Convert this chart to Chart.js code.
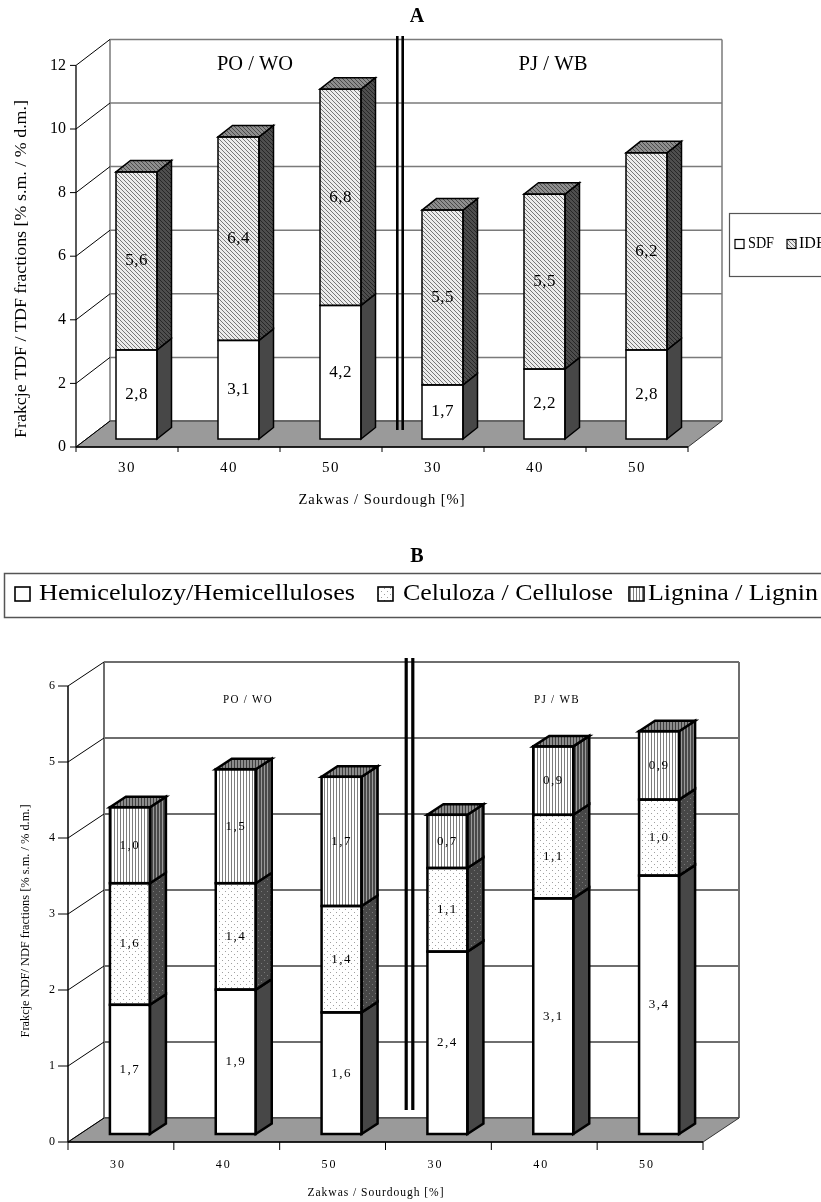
<!DOCTYPE html>
<html>
<head>
<meta charset="utf-8">
<script src="https://cdn.jsdelivr.net/npm/chart.js@4.4.1/dist/chart.umd.min.js"></script>
<style>
  html,body{margin:0;padding:0;background:#fff;}
  body{width:821px;height:1202px;position:relative;overflow:hidden;}
  canvas{position:absolute;left:0;}
</style>
</head>
<body>
<canvas id="chartA" width="821" height="530" style="top:0px;width:821px;height:530px"></canvas>
<canvas id="chartB" width="821" height="662" style="top:540px;width:821px;height:662px"></canvas>
<script>
// ---------------- DATA ----------------
const categoriesA = ['30', '40', '50', '30', '40', '50'];
const sdfValues = [2.8, 3.1, 4.2, 1.7, 2.2, 2.8];
const idfValues = [5.6, 6.4, 6.8, 5.5, 5.5, 6.2];
const yTicksA = [0, 2, 4, 6, 8, 10, 12];
const groupLabelsA = ['PO / WO', 'PJ / WB'];
const seriesNamesA = ['SDF', 'IDF'];

const categoriesB = ['30', '40', '50', '30', '40', '50'];
const hemiValues = [1.7, 1.9, 1.6, 2.4, 3.1, 3.4];
const celluloseValues = [1.6, 1.4, 1.4, 1.1, 1.1, 1.0];
const ligninValues = [1.0, 1.5, 1.7, 0.7, 0.9, 0.9];
const yTicksB = [0, 1, 2, 3, 4, 5, 6];
const groupLabelsB = ['PO / WO', 'PJ / WB'];
const seriesNamesB = ['Hemicelulozy/Hemicelluloses', 'Celuloza / Cellulose', 'Lignina / Lignin'];

const titleA = 'A', titleB = 'B';
const xTitle = 'Zakwas / Sourdough [%]';
const yTitleA = 'Frakcje TDF / TDF fractions [% s.m. / % d.m.]';
const yTitleB = 'Frakcje NDF/ NDF fractions [% s.m. / % d.m.]';

// ---------------- HELPERS ----------------
const SERIF = '"Liberation Serif", "Times New Roman", serif';
const fmt = v => v.toFixed(1).replace('.', ',');

function makePattern(ctx, w, h, bg, fg, pixels) {
  const c = document.createElement('canvas');
  c.width = w; c.height = h;
  const x = c.getContext('2d');
  x.fillStyle = bg; x.fillRect(0, 0, w, h);
  x.fillStyle = fg;
  pixels.forEach(([i, j]) => x.fillRect(i, j, 1, 1));
  return ctx.createPattern(c, 'repeat');
}
const diag = n => Array.from({length: n}, (_, i) => [i, i]);
const vcol = h => Array.from({length: h}, (_, j) => [0, j]);

function txt(ctx, s, x, y, o) {
  ctx.save();
  ctx.font = o.font;
  ctx.fillStyle = o.color || '#000';
  ctx.textAlign = o.align || 'center';
  ctx.textBaseline = 'middle';
  if ('letterSpacing' in ctx) ctx.letterSpacing = (o.ls || 0) + 'px';
  ctx.translate(x, y);
  if (o.rot) ctx.rotate(o.rot);
  if (o.w) {
    const m = ctx.measureText(s).width;
    ctx.scale(o.w / m, 1);
  }
  ctx.fillText(s, 0, 0);
  ctx.restore();
}
function line(ctx, x1, y1, x2, y2) {
  ctx.beginPath(); ctx.moveTo(x1, y1); ctx.lineTo(x2, y2); ctx.stroke();
}
function poly(ctx, pts, fill, stroke, lw) {
  ctx.beginPath();
  pts.forEach((p, i) => i ? ctx.lineTo(p[0], p[1]) : ctx.moveTo(p[0], p[1]));
  ctx.closePath();
  if (fill) { ctx.fillStyle = fill; ctx.fill(); }
  if (stroke) { ctx.strokeStyle = stroke; ctx.lineWidth = lw; ctx.stroke(); }
}

// ---------------- 3D PLUGIN ----------------
function plugin3d(g) {
  return {
    id: 'fake3d',
    beforeDatasetsDraw(chart) {
      const {ctx, chartArea: ca, scales: {x, y}} = chart;
      const L = ca.left, R = ca.right, f = g.front, b = g.back;
      const ticks = g.ticks;
      const y0 = y.getPixelForValue(ticks[0]);
      const yT = y.getPixelForValue(ticks[ticks.length - 1]);
      ctx.save();
      ctx.lineCap = 'butt';
      // back wall
      ctx.fillStyle = '#fff';
      ctx.fillRect(L + b.dx, yT + b.dy, R - L, y0 - yT);
      ctx.strokeStyle = g.gridColor; ctx.lineWidth = g.gridW;
      ticks.forEach(t => {
        const yy = y.getPixelForValue(t) + b.dy;
        line(ctx, L + b.dx, yy, R + b.dx, yy);
      });
      line(ctx, L + b.dx, yT + b.dy, L + b.dx, y0 + b.dy);
      line(ctx, R + b.dx, yT + b.dy, R + b.dx, y0 + b.dy);
      // floor
      poly(ctx, [[L + f.dx, y0 + f.dy], [R + f.dx, y0 + f.dy], [R + b.dx, y0 + b.dy], [L + b.dx, y0 + b.dy]],
        g.floor, '#333', 1);
      // left wall diagonals + front axis
      ctx.strokeStyle = '#000'; ctx.lineWidth = 1;
      ticks.forEach(t => {
        const yy = y.getPixelForValue(t);
        line(ctx, L + f.dx, yy + f.dy, L + b.dx, yy + b.dy);
        line(ctx, L + f.dx - g.yTickLen, yy + f.dy, L + f.dx, yy + f.dy);
        txt(ctx, String(t), L + f.dx - g.yTickLen - g.yLabelGap, yy + f.dy, {font: g.yTickFont, align: 'right'});
      });
      ctx.lineWidth = g.axisW;
      line(ctx, L + f.dx, y0 + f.dy, L + f.dx, yT + f.dy);
      line(ctx, L + f.dx, y0 + f.dy, R + f.dx, y0 + f.dy);
      ctx.lineWidth = 1;
      const n = chart.data.labels.length;
      for (let i = 0; i <= n; i++) {
        const xb = x.getPixelForValue(i - 0.5) + f.dx;
        line(ctx, xb, y0 + f.dy, xb, y0 + f.dy + g.xTickLen);
      }
      chart.data.labels.forEach((lab, i) => {
        txt(ctx, lab, x.getPixelForValue(i) + f.dx + g.xLabelDx, y0 + f.dy + g.xLabelDy,
          {font: g.xTickFont, ls: g.xTickLs});
      });
      // group labels
      g.groups.forEach((s, i) => {
        txt(ctx, s, g.groupPos[i][0], g.groupPos[i][1], {font: g.groupFont, ls: g.groupLs, w: g.groupW[i]});
      });
      ctx.restore();
    },
    afterDatasetsDraw(chart) {
      const {ctx} = chart;
      const d = g.depth;
      const nDs = chart.data.datasets.length;
      ctx.save();
      ctx.lineJoin = 'miter';
      for (let k = 0; k < nDs; k++) {
        const meta = chart.getDatasetMeta(k);
        meta.data.forEach((el, i) => {
          const p = el.getProps(['x', 'y', 'base', 'width'], true);
          const l = p.x - p.width / 2, r = p.x + p.width / 2;
          const top = p.y, bot = p.base;
          poly(ctx, [[r, top], [r + d.dx, top + d.dy], [r + d.dx, bot + d.dy], [r, bot]], g.sideFills[k], '#000', g.lw);
          if (k === nDs - 1) {
            poly(ctx, [[l, top], [l + d.dx, top + d.dy], [r + d.dx, top + d.dy], [r, top]], g.topFill, '#000', g.lw);
          }
          ctx.strokeStyle = '#000'; ctx.lineWidth = g.lw;
          ctx.strokeRect(l, top, r - l, bot - top);
        });
      }
      // value labels
      for (let k = 0; k < nDs; k++) {
        const meta = chart.getDatasetMeta(k);
        const data = chart.data.datasets[k].data;
        meta.data.forEach((el, i) => {
          const p = el.getProps(['x', 'y', 'base'], true);
          txt(ctx, fmt(data[i]), p.x, (p.y + p.base) / 2 + g.valDy, {font: g.valFont, ls: g.valLs});
        });
      }
      ctx.restore();
    },
    afterDraw(chart) {
      const {ctx} = chart;
      ctx.save();
      // double divider
      const {x} = chart.scales;
      const cx = x.getPixelForValue(2.5) + g.divider.dx;
      ctx.strokeStyle = '#000'; ctx.lineWidth = g.divider.w;
      [-1, 1].forEach(sg => line(ctx, cx + sg * g.divider.gap / 2, g.divider.top, cx + sg * g.divider.gap / 2, g.divider.bottom));
      g.extra(ctx);
      ctx.restore();
    }
  };
}

function makeChart(id, labels, datasets, g) {
  const canvas = document.getElementById(id);
  return new Chart(canvas.getContext('2d'), {
    type: 'bar',
    data: {labels, datasets},
    options: {
      responsive: false,
      animation: false,
      devicePixelRatio: 1,
      layout: {padding: g.pad},
      plugins: {legend: {display: false}, title: {display: false}, tooltip: {enabled: false}},
      datasets: {bar: {categoryPercentage: 1, barPercentage: g.barPct, borderWidth: 0}},
      scales: {
        x: {stacked: true, display: false, offset: true},
        y: {stacked: true, display: false, min: g.ticks[0], max: g.ticks[g.ticks.length - 1]}
      }
    },
    plugins: [plugin3d(g)]
  });
}

// ---------------- CHART A ----------------
const ctxA = document.getElementById('chartA').getContext('2d');
const idfFront = makePattern(ctxA, 4, 4, '#ececec', '#777', diag(4));
const idfSide = makePattern(ctxA, 4, 4, '#4e4e4e', '#262626', diag(4));
const idfTop = makePattern(ctxA, 4, 4, '#8e8e8e', '#4a4a4a', diag(4));

const geoA = {
  pad: {left: 85.5, right: 123.5, top: 57.4, bottom: 91},
  barPct: 41 / 102,
  ticks: yTicksA,
  front: {dx: -9.5, dy: 8}, back: {dx: 24.5, dy: -18}, depth: {dx: 14.5, dy: -11.5},
  gridColor: '#7a7a7a', gridW: 1.5, floor: '#9a9a9a', axisW: 1.3,
  yTickLen: 6, yLabelGap: 4, yTickFont: '16px ' + SERIF,
  xTickLen: 5, xLabelDx: 0, xLabelDy: 21, xTickFont: '15px ' + SERIF, xTickLs: 1.5,
  groups: groupLabelsA, groupPos: [[255, 65], [553, 65]], groupW: [76, 69], groupFont: '20px ' + SERIF, groupLs: 0,
  sideFills: ['#474747', idfSide], topFill: idfTop, lw: 1.5,
  valFont: '17px ' + SERIF, valLs: 0.5, valDy: 0,
  divider: {dx: 8.5, gap: 5.4, w: 2.6, top: 36, bottom: 430},
  extra(ctx) {
    txt(ctx, titleA, 417, 17, {font: 'bold 20px ' + SERIF});
    txt(ctx, xTitle, 382, 500, {font: '15px ' + SERIF, w: 167, ls: 1});
    txt(ctx, yTitleA, 22, 269, {font: '16px ' + SERIF, w: 338, rot: -Math.PI / 2});
    // legend
    ctx.strokeStyle = '#555'; ctx.lineWidth = 1.2;
    ctx.strokeRect(729.5, 213.5, 120, 63);
    ctx.fillStyle = '#fff'; ctx.fillRect(735, 239.5, 9, 9);
    ctx.strokeStyle = '#000'; ctx.lineWidth = 1.2; ctx.strokeRect(735, 239.5, 9, 9);
    txt(ctx, seriesNamesA[0], 748, 244, {font: '16px ' + SERIF, align: 'left', w: 26});
    ctx.fillStyle = idfFront; ctx.fillRect(787, 239.5, 9, 9); ctx.strokeRect(787, 239.5, 9, 9);
    txt(ctx, seriesNamesA[1], 799, 244, {font: '16px ' + SERIF, align: 'left'});
  }
};
makeChart('chartA', categoriesA, [
  {label: seriesNamesA[0], data: sdfValues, backgroundColor: '#ffffff'},
  {label: seriesNamesA[1], data: idfValues, backgroundColor: idfFront}
], geoA);

// ---------------- CHART B ----------------
const ctxB = document.getElementById('chartB').getContext('2d');
const dotPix = [[0, 0], [3, 3]];
const celFront = makePattern(ctxB, 6, 6, '#ffffff', '#a0a0a0', dotPix);
const celSide = makePattern(ctxB, 6, 6, '#474747', '#7a7a7a', dotPix);
const ligFront = makePattern(ctxB, 3, 3, '#ffffff', '#7e7e7e', vcol(3));
const ligSide = makePattern(ctxB, 3, 3, '#4a4a4a', '#9a9a9a', vcol(3));
const ligTop = makePattern(ctxB, 3, 3, '#8c8c8c', '#3e3e3e', vcol(3));
const OY = 540;
const geoB = {
  pad: {left: 77, right: 109, top: 138, bottom: 68},
  barPct: 40 / 105.83,
  ticks: yTicksB,
  front: {dx: -9, dy: 8}, back: {dx: 27, dy: -16}, depth: {dx: 16, dy: -10.5},
  gridColor: '#6e6e6e', gridW: 2, floor: '#9a9a9a', axisW: 1.5,
  yTickLen: 10, yLabelGap: 3, yTickFont: '12px ' + SERIF,
  xTickLen: 8, xLabelDx: -3, xLabelDy: 23, xTickFont: '12px ' + SERIF, xTickLs: 2,
  groups: groupLabelsB, groupPos: [[248, 700 - OY], [557, 700 - OY]], groupW: [50, 46], groupFont: '13px ' + SERIF, groupLs: 1.5,
  sideFills: ['#474747', celSide, ligSide], topFill: ligTop, lw: 2.5,
  valFont: '13px ' + SERIF, valLs: 1.5, valDy: 0,
  divider: {dx: 15, gap: 6.6, w: 3.2, top: 658 - OY, bottom: 1110 - OY},
  extra(ctx) {
    txt(ctx, titleB, 417, 557 - OY, {font: 'bold 20px ' + SERIF});
    txt(ctx, xTitle, 376, 1193 - OY, {font: '12px ' + SERIF, w: 137, ls: 1});
    txt(ctx, yTitleB, 26, 921 - OY, {font: '12px ' + SERIF, w: 233, rot: -Math.PI / 2});
    // legend
    ctx.strokeStyle = '#555'; ctx.lineWidth = 1.5;
    ctx.strokeRect(4.5, 573.5 - OY, 830, 44);
    const my = 587 - OY;
    const markers = [[15, '#ffffff', 39, 316], [378, celFront, 403, 210], [629, ligFront, 648, 170]];
    markers.forEach(([mx, fill, tx, tw], i) => {
      ctx.fillStyle = fill; ctx.fillRect(mx, my, 15, 14);
      ctx.strokeStyle = '#000'; ctx.lineWidth = 1.6; ctx.strokeRect(mx, my, 15, 14);
      txt(ctx, seriesNamesB[i], tx, 594 - OY, {font: '23px ' + SERIF, align: 'left', w: tw});
    });
  }
};
makeChart('chartB', categoriesB, [
  {label: seriesNamesB[0], data: hemiValues, backgroundColor: '#ffffff'},
  {label: seriesNamesB[1], data: celluloseValues, backgroundColor: celFront},
  {label: seriesNamesB[2], data: ligninValues, backgroundColor: ligFront}
], geoB);
</script>
</body>
</html>
